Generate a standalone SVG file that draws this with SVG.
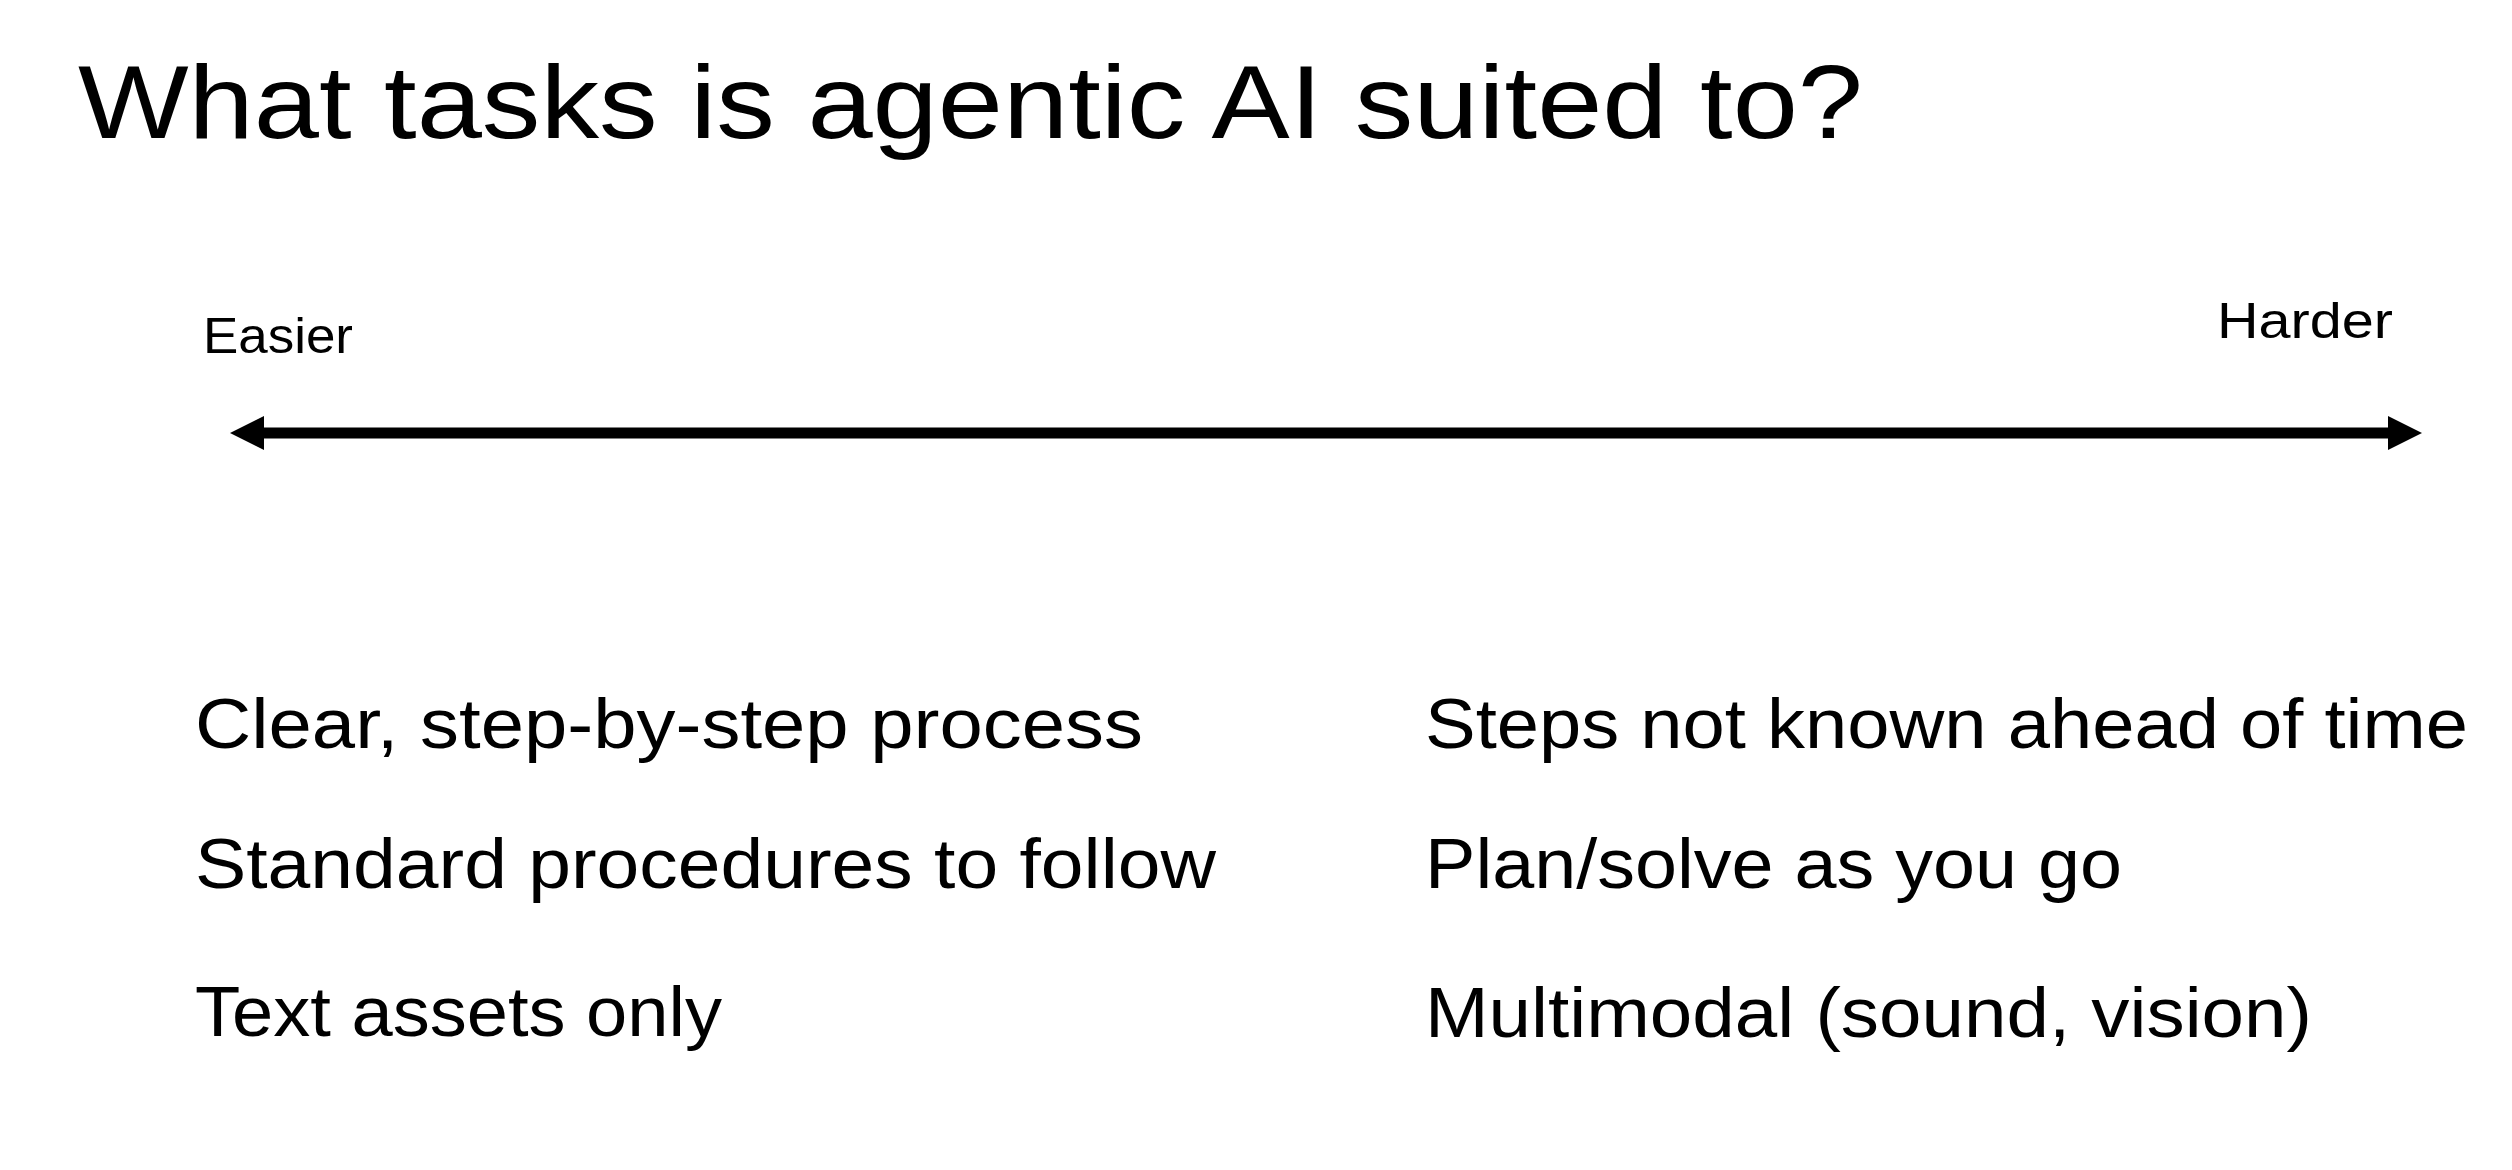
<svg xmlns="http://www.w3.org/2000/svg" width="2512" height="1170" viewBox="0 0 2512 1170">
  <style>
    text { font-family: "Liberation Sans", Arial, sans-serif; fill: #000; }
    .title { font-size: 104px; }
    .end { font-size: 50px; }
    .item { font-size: 70px; }
  </style>
  <defs>
    <marker id="head" markerUnits="userSpaceOnUse" markerWidth="34" markerHeight="34" viewBox="0 0 34 34" refX="9" refY="17" orient="auto-start-reverse">
      <path d="M0,0 L34,17 L0,34 Z" fill="#000"/>
    </marker>
  </defs>
  <rect width="2512" height="1170" fill="#fff"/>
  <g id="title">
    <text class="title" x="78" y="138" textLength="1785" lengthAdjust="spacingAndGlyphs">What tasks is agentic AI suited to?</text>
  </g>
  <g id="easier">
    <text class="end" x="203" y="353" textLength="150" lengthAdjust="spacingAndGlyphs">Easier</text>
  </g>
  <g id="harder">
    <text class="end" x="2217" y="338" textLength="176" lengthAdjust="spacingAndGlyphs">Harder</text>
  </g>
  <g id="connectors">
    <line x1="255" y1="433" x2="2397" y2="433" stroke="#000" stroke-width="11" marker-start="url(#head)" marker-end="url(#head)"/>
  </g>
  <g id="easy-items">
    <text class="item" x="195" y="748" textLength="948" lengthAdjust="spacingAndGlyphs">Clear, step-by-step process</text>
    <text class="item" x="195" y="888" textLength="1021" lengthAdjust="spacingAndGlyphs">Standard procedures to follow</text>
    <text class="item" x="195" y="1036" textLength="527" lengthAdjust="spacingAndGlyphs">Text assets only</text>
  </g>
  <g id="hard-items">
    <text class="item" x="1425" y="748" textLength="1043" lengthAdjust="spacingAndGlyphs">Steps not known ahead of time</text>
    <text class="item" x="1425" y="888" textLength="697" lengthAdjust="spacingAndGlyphs">Plan/solve as you go</text>
    <text class="item" x="1425" y="1037" textLength="887" lengthAdjust="spacingAndGlyphs">Multimodal (sound, vision)</text>
  </g>
</svg>
